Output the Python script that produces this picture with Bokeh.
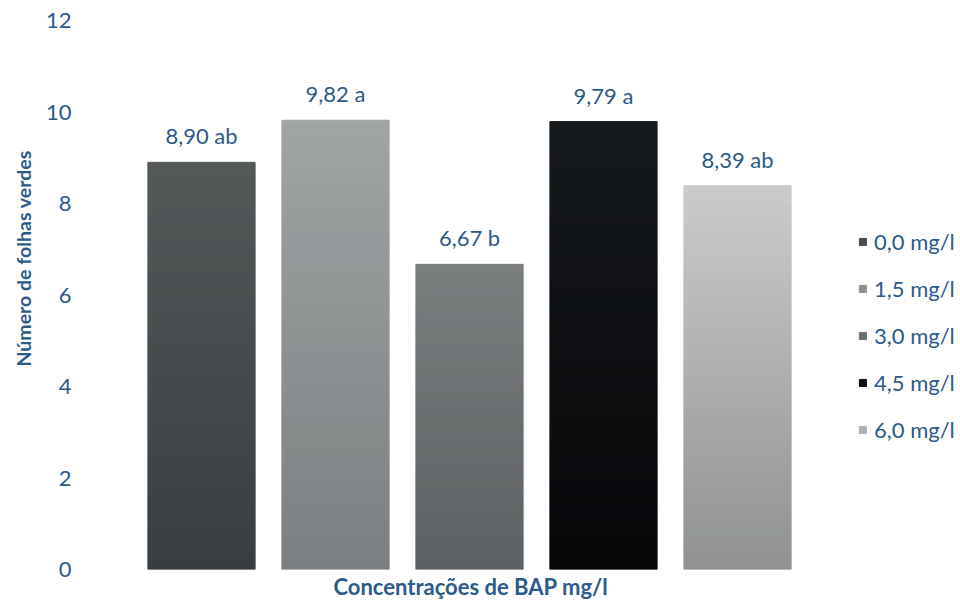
from bokeh.plotting import figure
from bokeh.models import ColumnDataSource, Legend, LegendItem, FixedTicker, Range1d, Title
from bokeh.core.properties import value
from bokeh.embed import file_html
from bokeh.resources import INLINE

# ---- data ----
categories = ["0,0 mg/l", "1,5 mg/l", "3,0 mg/l", "4,5 mg/l", "6,0 mg/l"]
values = [8.90, 9.82, 6.67, 9.79, 8.39]
letters = ["ab", "a", "b", "a", "ab"]
y_ticks = [0, 2, 4, 6, 8, 10, 12]

# ---- styling ----
top_colors = ["#545859", "#a1a4a5", "#7b7e7f", "#16191c", "#cacbcc"]
bottom_colors = ["#3a3d40", "#7c7f81", "#5d6062", "#060709", "#8f9192"]
TXT = "#2D5A88"
FONT = "Lato"
N_SLICES = 40
LEFT = 134
RIGHT = 2
W, H = 960, 601
UNIT_PX = 134  # pixels per category slot

frame_w = W - LEFT - RIGHT
x_end = 0.5 + frame_w / UNIT_PX


def hex2rgb(h):
    h = h.lstrip("#")
    return tuple(int(h[i:i + 2], 16) for i in (0, 2, 4))


def mix(c0, c1, t):
    a, b = hex2rgb(c0), hex2rgb(c1)
    return "#%02x%02x%02x" % tuple(int(round(a[i] + (b[i] - a[i]) * t)) for i in range(3))


xs = list(range(1, len(categories) + 1))

p = figure(width=W, height=H, x_range=Range1d(0.5, x_end), y_range=Range1d(0, 12),
           output_backend="svg", toolbar_location=None,
           min_border_left=LEFT, min_border_right=RIGHT, min_border_top=20, min_border_bottom=31)
p.title.visible = False
p.outline_line_color = None
p.grid.visible = False
p.background_fill_color = "white"
p.border_fill_color = "white"

items = []
for i, (x, v) in enumerate(zip(xs, values)):
    bottoms = [v * k / N_SLICES for k in range(N_SLICES)]
    tops = [v * (k + 1) / N_SLICES for k in range(N_SLICES)]
    cols = [mix(bottom_colors[i], top_colors[i], (k + 0.5) / N_SLICES) for k in range(N_SLICES)]
    src = ColumnDataSource(dict(x=[x] * N_SLICES, bottom=bottoms, top=tops, color=cols))
    r = p.vbar(x="x", bottom="bottom", top="top", width=0.8, source=src,
               fill_color="color", line_color="color", line_width=1)
    items.append(LegendItem(label=categories[i], renderers=[r], index=N_SLICES // 2))

labels = [("%.2f" % v).replace(".", ",") + " " + l for v, l in zip(values, letters)]
p.text(x=xs, y=values, text=labels, text_align="center", text_baseline="bottom",
       y_offset=-13, text_font=value(FONT), text_font_size="22px", text_color=TXT)

# y axis
ya = p.yaxis[0]
ya.ticker = FixedTicker(ticks=y_ticks)
ya.axis_line_color = None
ya.major_tick_line_color = None
ya.minor_tick_line_color = None
ya.major_tick_out = 0
ya.major_tick_in = 0
ya.major_label_standoff = 63
ya.major_label_text_font = FONT
ya.major_label_text_font_size = "22px"
ya.major_label_text_color = TXT

# x axis: no ticks, title placed under the bars
p.xaxis.visible = False
xtitle = Title(text="Concentrações de BAP mg/l", align="left", offset=199, standoff=3,
               text_font=FONT, text_font_size="22px", text_font_style="bold", text_color=TXT)
p.add_layout(xtitle, "below")

# y axis title (placed higher, like the reference)
ytitle = Title(text="Número de folhas verdes", align="left", offset=203, standoff=16,
               text_font=FONT, text_font_size="19.5px", text_font_style="bold", text_color=TXT)
p.add_layout(ytitle, "left")

legend = Legend(items=items, location=(724, 126), orientation="vertical",
                glyph_width=9, glyph_height=9, label_height=26, spacing=20,
                label_standoff=7, padding=0, margin=0,
                border_line_color=None, background_fill_alpha=0,
                label_text_font=FONT, label_text_font_size="22px", label_text_color=TXT)
p.add_layout(legend, "center")

open("out.html", "w").write(file_html(p, INLINE))
